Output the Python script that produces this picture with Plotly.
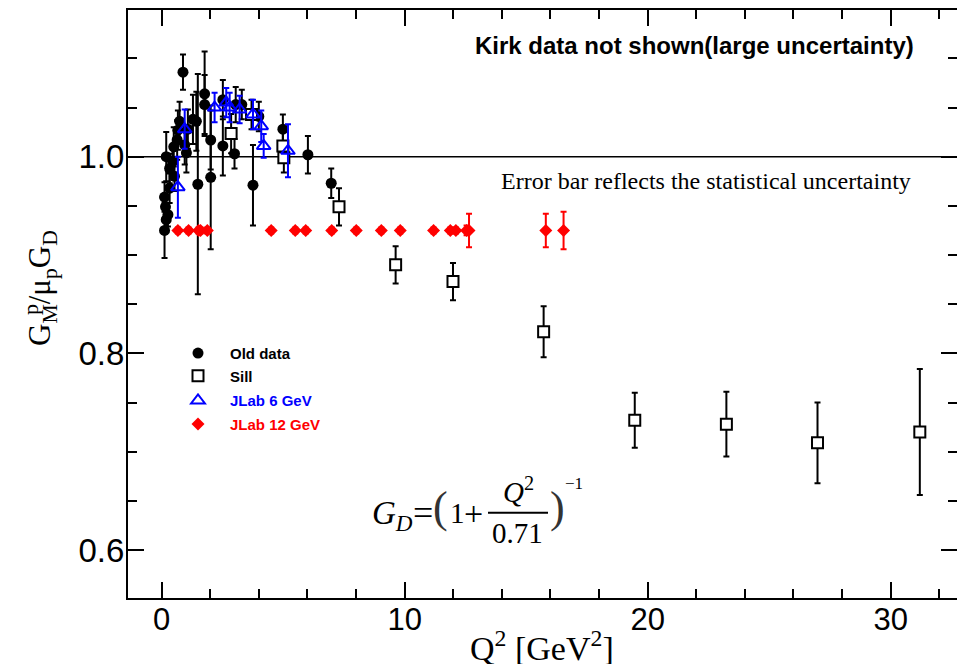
import plotly.graph_objects as go

# ---------------- data ----------------
old_q2 = [0.12, 0.19, 0.26, 0.16, 0.12, 0.33, 0.53, 0.33, 0.45, 0.19, 0.50, 1.02, 0.95,
          0.64, 0.67, 0.74, 1.08, 1.29, 1.43, 0.88, 1.77, 1.77, 1.49, 2.02, 2.02,
          2.52, 2.52, 3.00, 3.05, 3.30, 3.76, 4.00, 4.99, 6.02, 6.98]
old_ratio = [0.925, 0.936, 0.941, 0.949, 0.959, 0.968, 0.980, 0.988, 0.995, 1.000, 1.010, 1.004, 1.012,
             1.017, 1.027, 1.036, 1.028, 1.038, 1.036, 1.086, 1.064, 1.053, 0.972, 0.979, 1.017,
             1.058, 1.011, 1.003, 1.053, 1.053, 0.971, 1.041, 1.028, 1.002, 0.973]
old_err = [0.028, 0.012, 0.012, 0.012, 0.015, 0.015, 0.015, 0.015, 0.015, 0.025, 0.020, 0.020, 0.020,
           0.020, 0.020, 0.020, 0.020, 0.025, 0.030, 0.018, 0.043, 0.030, 0.112, 0.073, 0.030,
           0.020, 0.030, 0.015, 0.018, 0.015, 0.041, 0.015, 0.015, 0.019, 0.015]

sill_q2 = [2.86, 3.70, 4.99, 5.03, 7.30, 9.63, 11.99, 15.72, 19.47, 23.24, 26.99, 31.20]
sill_ratio = [1.0235, 1.043, 1.011, 0.999, 0.949, 0.890, 0.873, 0.822, 0.732, 0.728, 0.709, 0.720]
sill_err = [0.020, 0.015, 0.015, 0.015, 0.019, 0.019, 0.019, 0.026, 0.028, 0.033, 0.041, 0.064]

jlab6_q2 = [0.67, 0.95, 2.18, 2.66, 2.80, 3.21, 3.76, 4.10, 4.20, 5.20]
jlab6_ratio = [0.969, 1.028, 1.050, 1.055, 1.050, 1.048, 1.043, 1.031, 1.011, 1.006]
jlab6_err = [0.031, 0.020, 0.015, 0.015, 0.015, 0.014, 0.015, 0.016, 0.012, 0.027]

jlab12_q2 = [0.67, 1.11, 1.52, 1.60, 1.88, 4.51, 5.50, 5.93, 7.00, 8.01, 9.04, 9.82,
             11.19, 11.88, 12.11, 12.55, 12.65, 15.81, 16.54]
jlab12_ratio = [0.925, 0.925, 0.925, 0.925, 0.925, 0.925, 0.925, 0.925, 0.925, 0.925, 0.925, 0.925,
                0.925, 0.925, 0.925, 0.925, 0.925, 0.925, 0.925]
jlab12_err = [0.003, 0.003, 0.003, 0.003, 0.003, 0.003, 0.003, 0.003, 0.003, 0.003, 0.003, 0.003,
              0.003, 0.003, 0.003, 0.005, 0.017, 0.017, 0.019]

x_ticks = [0, 10, 20, 30]
y_ticks = [0.6, 0.8, 1.0]

# ---------------- layout geometry ----------------
W, H = 957, 664
PL, PR, PT, PB = 128, 957, 10, 598


def pxx(p):
    return (p - PL) / (PR - PL)


def pxy(p):
    return (PB - p) / (PB - PT)


fig = go.Figure()

fig.add_trace(go.Scatter(
    x=old_q2, y=old_ratio, mode="markers", name="Old data", legend="legend",
    marker=dict(symbol="circle", size=11, color="black"),
    error_y=dict(type="data", array=old_err, color="black", thickness=2, width=3)))

fig.add_trace(go.Scatter(
    x=sill_q2, y=sill_ratio, mode="markers", name="Sill", legend="legend2",
    marker=dict(symbol="square", size=11, color="white", line=dict(color="black", width=2)),
    error_y=dict(type="data", array=sill_err, color="black", thickness=2, width=3)))

fig.add_trace(go.Scatter(
    x=jlab6_q2, y=jlab6_ratio, mode="markers", name="JLab 6 GeV", legend="legend3",
    marker=dict(symbol="triangle-up-open", size=12, color="#0000ff", line=dict(color="#0000ff", width=2)),
    error_y=dict(type="data", array=jlab6_err, color="#0000ff", thickness=2, width=3)))

fig.add_trace(go.Scatter(
    x=jlab12_q2, y=jlab12_ratio, mode="markers", name="JLab 12 GeV", legend="legend4",
    marker=dict(symbol="diamond", size=10, color="#ff0000"),
    error_y=dict(type="data", array=jlab12_err, color="#ff0000", thickness=2, width=3)))

leg_rows = [("legend", 353.3, "black"), ("legend2", 376.0, "black"),
            ("legend3", 400.7, "#0000ff"), ("legend4", 424.3, "#ff0000")]
leg_cfg = {}
for key, yc, col in leg_rows:
    leg_cfg[key] = dict(x=pxx(166), y=pxy(yc), xanchor="left", yanchor="middle",
                        bgcolor="rgba(0,0,0,0)", borderwidth=0, itemwidth=54,
                        font=dict(family="Liberation Sans", size=15, color=col, weight="bold"))

axis_common = dict(showline=True, linecolor="black", linewidth=2, mirror="ticks",
                   ticks="inside", tickcolor="black", tickwidth=1.5, ticklen=16,
                   showgrid=False, zeroline=False)

fig.update_layout(
    width=W, height=H,
    margin=dict(l=PL, r=W - PR, t=PT, b=H - PB, autoexpand=False),
    paper_bgcolor="white", plot_bgcolor="white",
    showlegend=True,
    xaxis=dict(range=[-1.383, 32.73], tickvals=x_ticks, ticklabelstandoff=-7,
               tickfont=dict(family="Liberation Sans", size=31, color="black"),
               minor=dict(ticks="inside", ticklen=9, dtick=2, tick0=0, tickcolor="black", tickwidth=1.5),
               **axis_common),
    yaxis=dict(range=[0.5512, 1.1492], tickvals=y_ticks, tickformat=".1f", ticklabelstandoff=-5,
               tickfont=dict(family="Liberation Sans", size=33, color="black"),
               minor=dict(ticks="inside", ticklen=9, dtick=0.05, tick0=0.6, tickcolor="black", tickwidth=1.5),
               **axis_common),
    **leg_cfg,
)

fig.add_shape(type="line", xref="paper", yref="y", x0=0, x1=1, y0=1.0, y1=1.0,
              line=dict(color="black", width=1.5), layer="below")

ann = []
ann.append(dict(text="<b>Kirk data not shown(large uncertainty)</b>", x=pxx(916), y=pxy(45),
                xanchor="right", yanchor="middle",
                font=dict(family="Liberation Sans", size=24, color="black")))
ann.append(dict(text="Error bar reflects the statistical uncertainty", x=pxx(913), y=pxy(181),
                xanchor="right", yanchor="middle",
                font=dict(family="Liberation Serif", size=24, color="black")))
# axis titles
ann.append(dict(text="Q<sup>2</sup> [GeV<sup>2</sup>]", x=pxx(542), y=pxy(646),
                xanchor="center", yanchor="middle",
                font=dict(family="Liberation Serif", size=34, color="black")))
ann.append(dict(text="G<sub>M</sub>/μ<sub>p</sub>G<sub>D</sub>", x=pxx(42), y=pxy(288),
                xanchor="center", yanchor="middle", textangle=-90,
                font=dict(family="Liberation Serif", size=31, color="black")))
ann.append(dict(text="p", x=pxx(30), y=pxy(310),
                xanchor="center", yanchor="middle", textangle=-90,
                font=dict(family="Liberation Serif", size=22, color="black")))
# formula
fserif = "Liberation Serif"
ann.append(dict(text="<i>G</i><sub><i>D</i></sub>", x=pxx(370), y=pxy(515), xanchor="left", yanchor="middle",
                font=dict(family=fserif, size=33, color="black")))
ann.append(dict(text="=", x=pxx(423), y=pxy(513), xanchor="center", yanchor="middle",
                font=dict(family=fserif, size=36, color="black")))
ann.append(dict(text="(", x=pxx(440), y=pxy(508), xanchor="center", yanchor="middle",
                font=dict(family=fserif, size=44, color="#333333")))
ann.append(dict(text="1", x=pxx(457), y=pxy(513), xanchor="center", yanchor="middle",
                font=dict(family=fserif, size=29, color="black")))
ann.append(dict(text="+", x=pxx(473), y=pxy(513), xanchor="center", yanchor="middle",
                font=dict(family=fserif, size=34, color="black")))
ann.append(dict(text="<i>Q</i><sup>2</sup>", x=pxx(518), y=pxy(490), xanchor="center", yanchor="middle",
                font=dict(family=fserif, size=29, color="black")))
ann.append(dict(text="0.71", x=pxx(517), y=pxy(533), xanchor="center", yanchor="middle",
                font=dict(family=fserif, size=29, color="black")))
ann.append(dict(text=")", x=pxx(557), y=pxy(508), xanchor="center", yanchor="middle",
                font=dict(family=fserif, size=44, color="#333333")))
ann.append(dict(text="−1", x=pxx(574), y=pxy(483), xanchor="center", yanchor="middle",
                font=dict(family=fserif, size=17, color="black")))
for a in ann:
    a.update(xref="paper", yref="paper", showarrow=False)
fig.update_layout(annotations=ann)

fig.add_shape(type="line", xref="paper", yref="paper", x0=pxx(488), x1=pxx(548), y0=pxy(512.7), y1=pxy(512.7),
              line=dict(color="black", width=2))

fig.write_html("out.html", config={"displayModeBar": False},
               post_script="document.body.style.margin='0';document.body.style.overflow='hidden';")
